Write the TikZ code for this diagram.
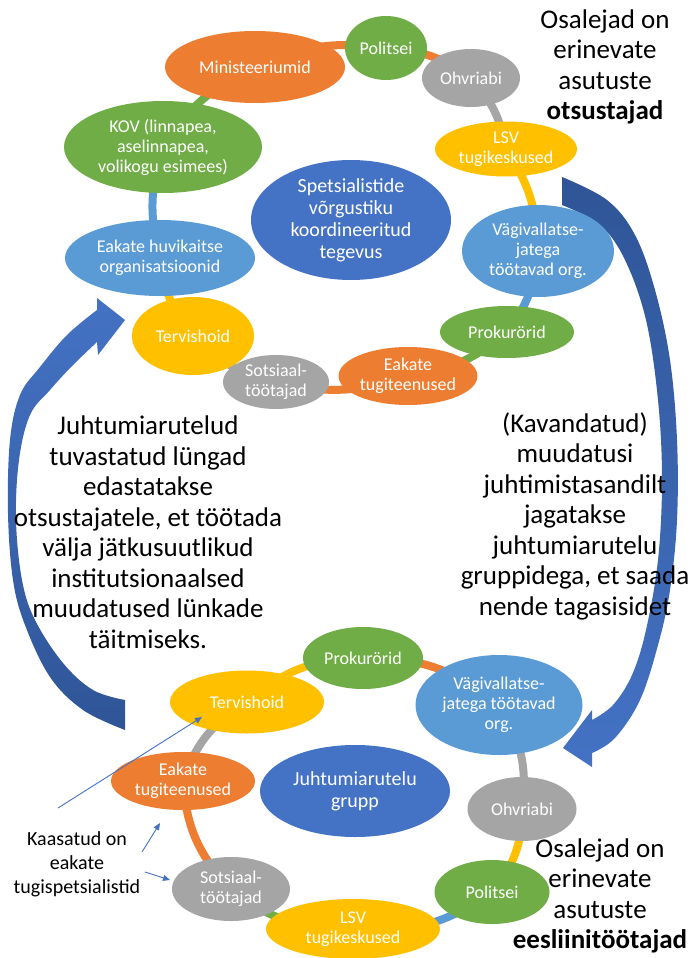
\documentclass[tikz,border=0pt]{standalone}
\usepackage{fontspec}
\setmainfont{Carlito}
\usetikzlibrary{shapes.geometric,arrows.meta,backgrounds}
\definecolor{cOr}{HTML}{ED7D31}
\definecolor{cGr}{HTML}{70AD47}
\definecolor{cGy}{HTML}{A5A5A5}
\definecolor{cYe}{HTML}{FFC000}
\definecolor{cLb}{HTML}{5B9BD5}
\definecolor{cDb}{HTML}{4472C4}
\definecolor{cDk}{HTML}{2F5597}
\tikzset{
  ell/.style={ellipse, inner sep=0pt, draw=none},
  et/.style={text=white, align=center, inner sep=0pt, font=\fontsize{18}{20}\selectfont},
  ct/.style={text=white, align=center, inner sep=0pt, font=\fontsize{20}{22}\selectfont},
  bigtext/.style={align=center, inner sep=0pt, font=\fontsize{27}{30.5}\selectfont},
  anntext/.style={align=center, inner sep=0pt, font=\fontsize{20}{24}\selectfont},
  ring/.style={line width=8pt},
  tb/.style={ring, bend left=16},
  bb/.style={ring, bend left=20},
  note/.style={draw=cDb, line width=0.9pt, -{Triangle[length=7pt,width=6pt]}}
}
\begin{document}
\begin{tikzpicture}[x=1pt,y=-1pt]
\useasboundingbox (0,0) rectangle (689,958);

% ---------------- top ring ----------------
\node[ell, fill=cOr, minimum width=180pt, minimum height=72pt] (tmin) at (255,67) {};
\node[ell, fill=cGr, minimum width=82pt, minimum height=64pt] (tpol) at (386,48) {};
\node[ell, fill=cGy, minimum width=98pt, minimum height=58pt] (tohv) at (471,78) {};
\node[ell, fill=cYe, minimum width=142pt, minimum height=55pt] (tlsv) at (506,149) {};
\node[ell, fill=cLb, minimum width=152pt, minimum height=92pt] (tvag) at (538,251) {};
\node[ell, fill=cGr, minimum width=134pt, minimum height=52pt] (tpro) at (507,332) {};
\node[ell, fill=cOr, minimum width=139pt, minimum height=58pt] (teak) at (408,376) {};
\node[ell, fill=cGy, minimum width=106pt, minimum height=54pt] (tsoc) at (276,382) {};
\node[ell, fill=cYe, minimum width=122pt, minimum height=78pt] (tter) at (193,336) {};
\node[ell, fill=cLb, minimum width=190pt, minimum height=76pt] (thuv) at (160,258) {};
\node[ell, fill=cGr, minimum width=198pt, minimum height=92pt] (tkov) at (163,147) {};
\node[ell, fill=cDb, minimum width=200pt, minimum height=120pt] (tspe) at (351,220) {};

\node[et] (tmint) at (tmin) {Ministeeriumid};
\node[et] (tpolt) at (tpol) {Politsei};
\node[et] (tohvt) at (tohv) {Ohvriabi};
\node[et] (tlsvt) at (tlsv) {LSV\\tugikeskused};
\node[et] (tvagt) at (tvag) {Vägivallatse-\\jatega\\töötavad org.};
\node[et] (tprot) at (tpro) {Prokurörid};
\node[et] (teakt) at (teak) {Eakate\\tugiteenused};
\node[et] (tsoct) at (tsoc) {Sotsiaal-\\töötajad};
\node[et] (ttert) at (tter) {Tervishoid};
\node[et] (thuvt) at (thuv) {Eakate huvikaitse\\organisatsioonid};
\node[et] (tkovt) at (tkov) {KOV (linnapea,\\aselinnapea,\\volikogu esimees)};
\node[ct] (tspet) at (tspe) {Spetsialistide\\võrgustiku\\koordineeritud\\tegevus};

% ---------------- bottom ring ----------------
\node[ell, fill=cYe, minimum width=154pt, minimum height=63pt] (bter) at (247,702) {};
\node[ell, fill=cGr, minimum width=120pt, minimum height=62pt] (bpro) at (363,658) {};
\node[ell, fill=cLb, minimum width=167pt, minimum height=100pt] (bvag) at (499,705) {};
\node[ell, fill=cOr, minimum width=144pt, minimum height=58pt] (beak) at (183,781) {};
\node[ell, fill=cDb, minimum width=190pt, minimum height=92pt] (bjuh) at (355,791) {};
\node[ell, fill=cGy, minimum width=109pt, minimum height=64pt] (bohv) at (522,809) {};
\node[ell, fill=cGy, minimum width=118pt, minimum height=64pt] (bsoc) at (231,889) {};
\node[ell, fill=cGr, minimum width=115pt, minimum height=64pt] (bpol) at (492,892) {};
\node[ell, fill=cYe, minimum width=174pt, minimum height=60pt] (blsv) at (353,929) {};

\node[et] (btert) at (bter) {Tervishoid};
\node[et] (bprot) at (bpro) {Prokurörid};
\node[et] (bvagt) at (bvag) {Vägivallatse-\\jatega töötavad\\org.};
\node[et] (beakt) at (beak) {Eakate\\tugiteenused};
\node[ct] (bjuht) at (bjuh) {Juhtumiarutelu\\grupp};
\node[et] (bohvt) at (bohv) {Ohvriabi};
\node[et] (bsoct) at (bsoc) {Sotsiaal-\\töötajad};
\node[et] (bpolt) at (bpol) {Politsei};
\node[et] (blsvt) at (blsv) {LSV\\tugikeskused};

% ---------------- background: big arrows and ring ----------------
\begin{pgfonlayer}{background}
\fill[white] (0,0) rectangle (689,958);
% left curved arrow (up)
\path[top color=cDb, bottom color=cDk]
  plot[smooth, tension=0.6] coordinates {(125,700) (93,690) (63,663) (35,620) (22,580) (16,520) (19,460) (30,415) (50,390) (72,366) (97,342)}
  -- (98,355) -- (125,320) -- (97,298) -- (97,310)
  -- plot[smooth, tension=0.6] coordinates {(97,310) (67,335) (40,367) (20,395) (10,440) (8,513) (13,580) (25,625) (50,677) (83,710) (125,730)}
  -- cycle;
% right curved arrow (down)
\path[top color=cDk, bottom color=cDb]
  plot[smooth, tension=0.6] coordinates {(562,177) (607,200) (635,235) (655,290) (670,360) (677,440) (677,520) (670,590) (658,645) (640,700) (615,738) (592,753)}
  -- (592,767) -- (563,748) -- (592,710) -- (592,720)
  -- plot[smooth, tension=0.6] coordinates {(592,720) (613,705) (632,675) (646,630) (658,560) (662,480) (658,400) (646,320) (625,260) (600,225) (562,205)}
  -- cycle;

% top ring connectors
\draw[tb, cOr] (tmin.center) to (tpol.center);
\draw[tb, cOr] (tpol.center) to (tohv.center);
\draw[tb, cGy] (tohv.center) to (tlsv.center);
\draw[tb, cYe] (tlsv.center) to (tvag.center);
\draw[tb, cLb] (tvag.center) to (tpro.center);
\draw[tb, cGr] (tpro.center) to (teak.center);
\draw[tb, cOr] (teak.center) to (tsoc.center);
\draw[tb, cGy] (tsoc.center) to (tter.center);
\draw[tb, cYe] (tter.center) to (thuv.center);
\draw[tb, cLb] (thuv.center) to (tkov.center);
\draw[tb, cGr] (tkov.center) to (tmin.center);

% bottom ring connectors
\draw[bb, cYe] (bter.center) to (bpro.center);
\draw[bb, cOr] (bpro.center) to (bvag.center);
\draw[bb, cGy] (bvag.center) to (bohv.center);
\draw[bb, cYe] (bohv.center) to (bpol.center);
\draw[bb, cLb] (bpol.center) to (blsv.center);
\draw[bb, cGr] (blsv.center) to (bsoc.center);
\draw[bb, cOr] (bsoc.center) to (beak.center);
\draw[bb, cGy] (beak.center) to (bter.center);
\end{pgfonlayer}

% ---------------- texts ----------------
\node[bigtext] (ltext) at (148,532) {Juhtumiarutelud\\tuvastatud lüngad\\edastatakse\\otsustajatele, et töötada\\välja jätkusuutlikud\\institutsionaalsed\\muudatused lünkade\\täitmiseks.};
\node[bigtext] (rtext) at (575,516) {(Kavandatud)\\muudatusi\\juhtimistasandilt\\jagatakse\\juhtumiarutelu\\gruppidega, et saada\\nende tagasisidet};
\node[bigtext] (trtext) at (605,67) {Osalejad on\\erinevate\\asutuste\\\textbf{otsustajad}};
\node[bigtext] (brtext) at (600,896) {Osalejad on\\erinevate\\asutuste\\\textbf{eesliinitöötajad}};

% ---------------- annotation ----------------
\node[anntext] (kaas) at (77,864) {Kaasatud on\\eakate\\tugispetsialistid};
\coordinate (n1s) at (58,808);
\coordinate (n1e) at (202,717);
\coordinate (n2s) at (142,852);
\coordinate (n2e) at (160,823);
\coordinate (n3s) at (145,872);
\coordinate (n3e) at (170,880);
\draw[note] (n1s) -- (n1e);
\draw[note] (n2s) -- (n2e);
\draw[note] (n3s) -- (n3e);
\end{tikzpicture}
\end{document}
